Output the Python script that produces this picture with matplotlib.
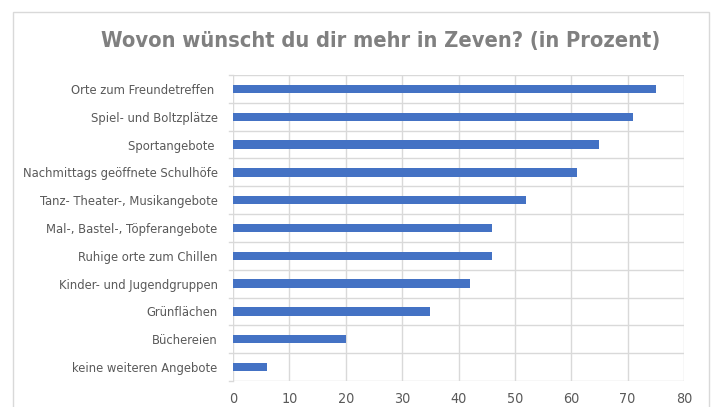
import matplotlib.pyplot as plt
from matplotlib.patches import Rectangle

categories = [
    'Orte zum Freundetreffen ',
    'Spiel- und Boltzplätze',
    'Sportangebote ',
    'Nachmittags geöffnete Schulhöfe',
    'Tanz- Theater-, Musikangebote',
    'Mal-, Bastel-, Töpferangebote',
    'Ruhige orte zum Chillen',
    'Kinder- und Jugendgruppen',
    'Grünflächen',
    'Büchereien',
    'keine weiteren Angebote',
]
values = [75, 71, 65, 61, 52, 46, 46, 42, 35, 20, 6]
x_ticks = [0, 10, 20, 30, 40, 50, 60, 70, 80]

plt.rcParams['font.family'] = ['DejaVu Sans']
plt.rcParams['font.stretch'] = 'condensed'

fig = plt.figure(figsize=(7.14, 4.07), dpi=100)
ax = fig.add_axes([233 / 714, 1 - 381 / 407, 451 / 714, 306 / 407])

# chart area border
fig.patches.append(Rectangle((13 / 714, -0.05), 696 / 714, 1.05 - 12 / 407,
                             transform=fig.transFigure, fill=False,
                             edgecolor='#d9d9d9', linewidth=1))

n = len(categories)
pos = list(range(n))[::-1]
ax.barh(pos, values, height=0.3, color='#4472c4', zorder=3)

ax.set_xlim(0, 80)
ax.set_ylim(-0.5, n - 0.5)
ax.set_xticks(x_ticks)
ax.set_yticks(pos)
ax.set_yticklabels(categories)

# grid: vertical at ticks, horizontal at category boundaries
for x in x_ticks:
    ax.axvline(x, color='#d9d9d9', linewidth=1, zorder=1)
for i in range(n + 1):
    y = i - 0.5
    ax.axhline(y, color='#d9d9d9', linewidth=1, zorder=1)
    ax.plot([-0.7, 0], [y, y], color='#d9d9d9', linewidth=1, clip_on=False)

for s in ax.spines.values():
    s.set_visible(False)
ax.tick_params(axis='both', length=0, labelcolor='#595959')
ax.tick_params(axis='y', pad=11, labelsize=9.3)
ax.tick_params(axis='x', pad=8, labelsize=10.3)

fig.text(381 / 714, 1 - 41 / 407, 'Wovon wünscht du dir mehr in Zeven? (in Prozent)',
         ha='center', va='center', fontsize=15.7, fontweight='bold', color='#808080')

fig.savefig('out.png', dpi=100)
